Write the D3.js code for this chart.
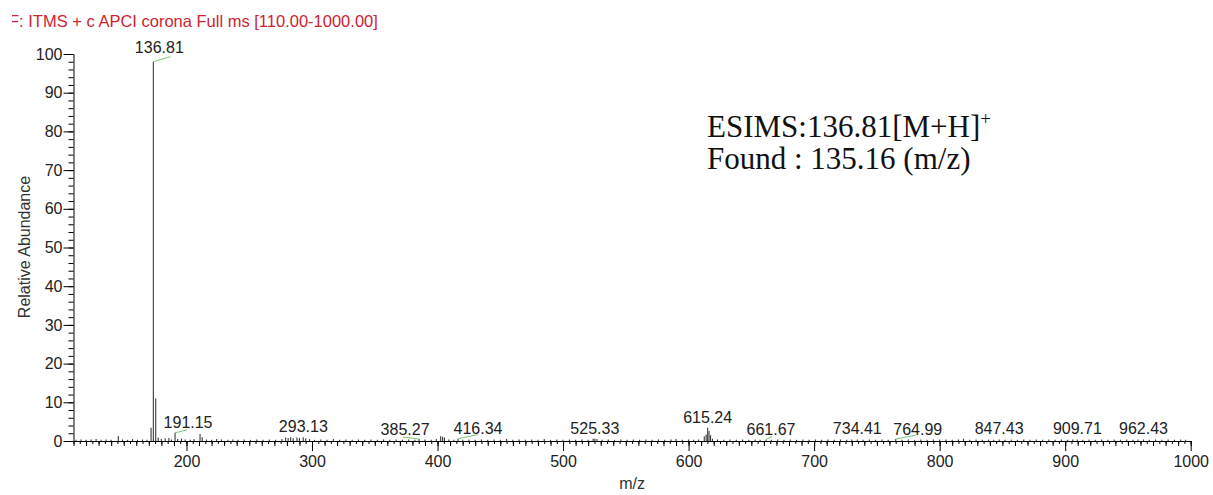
<!DOCTYPE html>
<meta charset="utf-8">
<script src="https://cdn.jsdelivr.net/npm/d3@7"></script>
<style>
  body { margin: 0; background: #fff; }
  text { font-family: "Liberation Sans", Arial, sans-serif; }
</style>
<body>
<svg width="1213" height="495"></svg>
</body>
<script>
    // axis ranges and ticks
    var mzDomain = [110, 1000];
    var intDomain = [0, 100];
    var xTickValues = [200, 300, 400, 500, 600, 700, 800, 900, 1000];
    var yTickValues = [0, 10, 20, 30, 40, 50, 60, 70, 80, 90, 100];

    // spectrum sticks [m/z, relative abundance]
    var spectrum = [
        [112, 0.3], [116, 0.4], [120, 0.3], [124, 0.4], [128, 0.5], [132, 0.3], [136, 0.4], [140, 0.3],
        [145.7, 1.3], [149, 0.4], [153, 0.3], [157, 0.5], [161, 0.3], [165, 0.4], [168.5, 0.3],
        [171.8, 3.4], [173.6, 98], [175.5, 11], [177.5, 0.9], [180, 0.5], [183, 0.7], [186, 0.8],
        [188, 0.4], [190.9, 2.1], [193, 0.5], [196, 0.6], [199, 0.4], [203, 0.3], [206, 0.5],
        [210.8, 1.8], [212.5, 1.0], [216, 0.4], [220, 0.3], [224, 0.5], [228, 0.4], [233, 0.3],
        [237, 0.4], [241, 0.3], [246, 0.4], [251, 0.3], [256, 0.4], [261, 0.3], [266, 0.4],
        [271, 0.3], [276, 0.5], [279, 0.9], [281, 0.8], [283, 1.0], [285, 0.7], [288, 0.9],
        [290, 0.8], [293, 1.0], [295, 0.7], [298, 0.5], [302, 0.3], [307, 0.4], [312, 0.3],
        [317, 0.5], [322, 0.3], [327, 0.4], [332, 0.3], [337, 0.4], [342, 0.3], [347, 0.4],
        [352, 0.3], [357, 0.4], [362, 0.3], [367, 0.4], [372, 0.3], [377, 0.4], [382, 0.3],
        [385.3, 0.5], [390, 0.4], [395, 0.3], [399, 0.5], [402.5, 1.2], [404, 1.1], [405.5, 0.9],
        [409, 0.4], [413, 0.3], [416.3, 0.6], [420, 0.3], [425, 0.4], [430, 0.3], [435, 0.4],
        [440, 0.3], [445, 0.4], [450, 0.3], [455, 0.5], [460, 0.3], [465, 0.4], [470, 0.3],
        [475, 0.4], [480, 0.3], [485, 0.5], [490, 0.3], [495, 0.4], [500, 0.3], [505, 0.4],
        [510, 0.3], [515, 0.4], [520, 0.3], [524, 0.6], [525.3, 0.6], [527, 0.5], [531, 0.3],
        [536, 0.4], [541, 0.3], [546, 0.4], [551, 0.3], [556, 0.4], [561, 0.3], [566, 0.4],
        [571, 0.3], [576, 0.4], [581, 0.3], [586, 0.4], [590, 0.5], [595, 0.3], [600, 0.4],
        [604, 0.3], [608, 0.4], [612.5, 1.2], [614, 1.7], [615.2, 3.4], [616.3, 2.6], [617.5, 1.5],
        [619, 0.6], [623, 0.4], [628, 0.3], [633, 0.4], [638, 0.3], [643, 0.4], [648, 0.3],
        [653, 0.4], [657, 0.3], [661.7, 0.4], [666, 0.3], [671, 0.4], [676, 0.3], [681, 0.4],
        [686, 0.3], [691, 0.4], [696, 0.3], [701, 0.4], [706, 0.3], [711, 0.4], [716, 0.3],
        [721, 0.4], [726, 0.3], [730, 0.4], [734.4, 0.4], [739, 0.3], [744, 0.4], [749, 0.3],
        [754, 0.4], [759, 0.3], [765, 0.5], [770, 0.3], [775, 0.4], [780, 0.3], [785, 0.4],
        [790, 0.3], [795, 0.4], [800, 0.3], [805, 0.4], [810, 0.3], [815, 0.4], [819, 0.6],
        [824, 0.3], [829, 0.4], [834, 0.3], [839, 0.4], [843, 0.3], [847.4, 0.4], [852, 0.3],
        [857, 0.4], [862, 0.3], [867, 0.4], [872, 0.3], [877, 0.4], [882, 0.3], [887, 0.4],
        [892, 0.3], [897, 0.4], [902, 0.3], [906, 0.4], [909.7, 0.4], [914, 0.3], [919, 0.4],
        [924, 0.3], [929, 0.4], [934, 0.3], [939, 0.4], [944, 0.3], [949, 0.4], [954, 0.3],
        [958, 0.4], [962.4, 0.4], [967, 0.3], [972, 0.4], [977, 0.3], [982, 0.4], [987, 0.3],
        [992, 0.4], [996, 0.3]
    ];

    // annotated peaks: where the label sits (m/z, abundance) and its text
    var labelMz = [173.6, 190.9, 293.1, 385.3, 416.3, 525.3, 615.2, 661.7, 734.4, 765.0, 847.4, 909.7, 962.4];
    var labelInt = [98, 2.1, 1.0, 0.5, 0.6, 0.6, 3.4, 0.4, 0.4, 0.5, 0.4, 0.4, 0.4];
    var labelText = ["136.81", "191.15", "293.13", "385.27", "416.34", "525.33", "615.24",
                     "661.67", "734.41", "764.99", "847.43", "909.71", "962.43"];

    var titleText = "F: ITMS + c APCI corona Full ms [110.00-1000.00]";

    // label nudges (layout only): dx = text shift, dy = baseline above peak top, lx/ly = leader end
    var nudge = {
        "136.81": {dx: 6, dy: -9, lx: 17, ly: -5},
        "191.15": {dx: 13, dy: -5, lx: 12, ly: -3},
        "385.27": {dx: -14, dy: -4, lx: -16, ly: -2},
        "416.34": {dx: 20, dy: -5, lx: 20, ly: -4},
        "661.67": {dx: 5, dy: -4, lx: 6, ly: -3},
        "764.99": {dx: 22, dy: -4, lx: 20, ly: -4}
    };

    var svg = d3.select('svg');

    var x = d3.scaleLinear().domain(mzDomain).range([73.5, 1190.7]);
    var y = d3.scaleLinear().domain(intDomain).range([441, 54]);

    // title (left edge of the "F" is cut off in the original)
    svg.append('clipPath').attr('id', 'tclip')
        .append('rect').attr('x', 12).attr('y', 0).attr('width', 600).attr('height', 40);
    svg.append('text')
        .attr('clip-path', 'url(#tclip)')
        .attr('x', 9).attr('y', 27)
        .style('font-size', '16.5px')
        .style('fill', '#cc2430')
        .text(titleText);

    // y axis: minor then major
    svg.append('g')
        .attr('transform', 'translate(73.5,0)')
        .call(d3.axisLeft(y).tickValues(d3.range(0, 101, 2)).tickSize(5).tickFormat(''))
        .call(function (g) { g.select('.domain').remove(); });
    var yAx = svg.append('g')
        .attr('transform', 'translate(73.5,0)')
        .call(d3.axisLeft(y).tickValues(yTickValues).tickSize(10).tickSizeOuter(0).tickPadding(1));
    yAx.selectAll('text').style('font-size', '16px').style('fill', '#222');

    // x axis: minor every 5, mid every 10, major every 100
    svg.append('g')
        .attr('transform', 'translate(0,441)')
        .call(d3.axisBottom(x).tickValues(d3.range(110, 1001, 5)).tickSize(3).tickFormat(''))
        .call(function (g) { g.select('.domain').remove(); });
    svg.append('g')
        .attr('transform', 'translate(0,441)')
        .call(d3.axisBottom(x).tickValues(d3.range(110, 1001, 10)).tickSize(5).tickFormat(''))
        .call(function (g) { g.select('.domain').remove(); });
    var xAx = svg.append('g')
        .attr('transform', 'translate(0,441)')
        .call(d3.axisBottom(x).tickValues(xTickValues).tickSize(10).tickSizeOuter(0)
            .tickPadding(5).tickFormat(d3.format('d')));
    xAx.selectAll('text').style('font-size', '16px').style('fill', '#222');

    // axis titles
    svg.append('text')
        .attr('transform', 'translate(30,247) rotate(-90)')
        .attr('text-anchor', 'middle')
        .style('font-size', '16px').style('fill', '#333')
        .text('Relative Abundance');
    svg.append('text')
        .attr('x', x(555)).attr('y', 489)
        .attr('text-anchor', 'middle')
        .style('font-size', '16px').style('fill', '#333')
        .text('m/z');

    // spectrum sticks
    svg.append('g').selectAll('line')
        .data(spectrum)
        .enter().append('line')
        .attr('x1', function (d) { return x(d[0]); })
        .attr('x2', function (d) { return x(d[0]); })
        .attr('y1', y(0))
        .attr('y2', function (d) { return y(d[1]); })
        .attr('stroke', '#3a3a3a')
        .attr('stroke-width', 1.1);

    // peak labels + green leader lines
    var lab = svg.append('g');
    labelText.forEach(function (t, i) {
        var px = x(labelMz[i]), py = y(labelInt[i]);
        var n = nudge[t] || {dx: 0, dy: -5};
        if (nudge[t]) {
            lab.append('line')
                .attr('x1', px).attr('y1', py)
                .attr('x2', px + n.lx).attr('y2', py + n.ly)
                .attr('stroke', '#7cc47a').attr('stroke-width', 1);
        }
        lab.append('text')
            .attr('x', px + n.dx).attr('y', py + n.dy)
            .attr('text-anchor', 'middle')
            .style('font-size', '16px').style('fill', '#222')
            .text(t);
    });

    // annotation text
    var note = svg.append('text')
        .attr('x', 707).attr('y', 137)
        .style('font-family', '"Liberation Serif", "Times New Roman", serif')
        .style('font-size', '31px').style('fill', '#111');
    note.append('tspan').text('ESIMS:136.81[M+H]');
    note.append('tspan').attr('dy', -12).style('font-size', '19px').text('+');
    svg.append('text')
        .attr('x', 707).attr('y', 169)
        .style('font-family', '"Liberation Serif", "Times New Roman", serif')
        .style('font-size', '31px').style('fill', '#111')
        .text('Found : 135.16 (m/z)');
</script>
